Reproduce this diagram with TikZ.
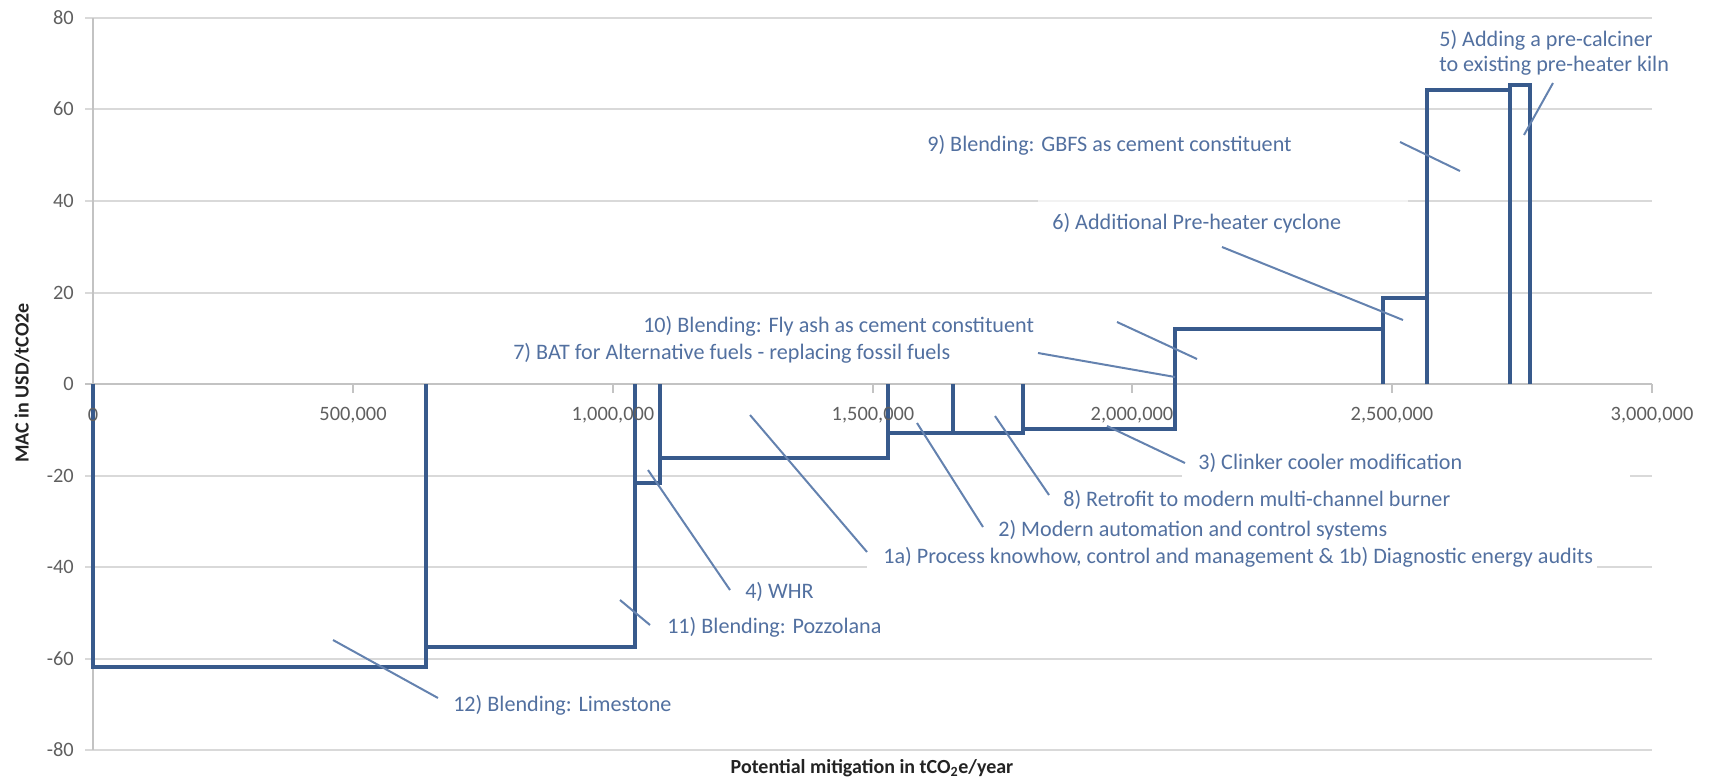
\documentclass[tikz,border=0pt]{standalone}
\usepackage{fontspec}
\setmainfont{Carlito}
\definecolor{curveblue}{RGB}{56,90,140}
\definecolor{lblblue}{RGB}{82,112,160}
\definecolor{leadblue}{RGB}{100,130,175}
\definecolor{gridgray}{RGB}{217,217,217}
\definecolor{axisgray}{RGB}{195,195,195}
\definecolor{ticktext}{RGB}{95,95,95}
\definecolor{titletext}{RGB}{35,35,35}
\begin{document}
\begin{tikzpicture}[x=0.75pt,y=-0.75pt,
  gridline/.style={draw=gridgray,line width=2.2pt},
  faintgrid/.style={draw=gridgray!35,line width=2.2pt},
  axisline/.style={draw=axisgray,line width=2.2pt},
  curve/.style={draw=curveblue,line width=3pt,line join=miter},
  leader/.style={draw=leadblue,line width=1.5pt},
  lbl/.style={anchor=west,inner sep=0pt,text=lblblue,align=left,
    font=\fontsize{16.6}{18.75}\selectfont},
  xtick/.style={anchor=center,inner sep=0pt,text=ticktext,
    font=\fontsize{15.3}{18}\selectfont},
  ytick/.style={anchor=east,inner sep=0pt,text=ticktext,
    font=\fontsize{15.3}{18}\selectfont},
  axtitle/.style={inner sep=0pt,text=titletext,
    font=\fontsize{15}{18}\selectfont\bfseries}]
\useasboundingbox (0,0) rectangle (1709,778);

% gridlines
\foreach \yy in {18,109,293,659,750} {
  \draw[gridline] (85,\yy) -- (1652,\yy);
}
\draw[gridline] (85,201) -- (1038,201);
\draw[faintgrid] (1038,201) -- (1408,201);
\draw[gridline] (1408,201) -- (1652,201);
\draw[gridline] (85,476) -- (1182,476);
\draw[gridline] (1630,476) -- (1652,476);
\draw[gridline] (85,567) -- (867,567);
\draw[gridline] (1597,567) -- (1652,567);
% axes
\draw[axisline] (93,18) -- (93,750);
\draw[axisline] (85,384) -- (1652,384);
\foreach \xx in {353,613,873,1132,1392,1652} {
  \draw[axisline,line width=1.2pt] (\xx,384) -- (\xx,393);
}

% MAC curve bars
\draw[curve] (93,384) -- (93,667) -- (426,667) -- (426,384);
\draw[curve] (426,384) -- (426,647) -- (635,647) -- (635,384);
\draw[curve] (635,384) -- (635,483) -- (660,483) -- (660,384);
\draw[curve] (660,384) -- (660,458) -- (888,458) -- (888,384);
\draw[curve] (888,384) -- (888,433) -- (953,433) -- (953,384);
\draw[curve] (953,384) -- (953,433) -- (1023,433) -- (1023,384);
\draw[curve] (1023,384) -- (1023,429) -- (1175,429) -- (1175,384);
\draw[curve] (1175,384) -- (1175,329) -- (1383,329) -- (1383,384);
\draw[curve] (1383,384) -- (1383,298) -- (1427,298) -- (1427,384);
\draw[curve] (1427,384) -- (1427,90) -- (1510,90) -- (1510,384);
\draw[curve] (1510,384) -- (1510,85) -- (1530,85) -- (1530,384);

% tick labels
\node[xtick] (x0) at (93,415) {0};
\node[xtick] (x1) at (353,415) {500,000};
\node[xtick] (x2) at (613,415) {1,000,000};
\node[xtick] (x3) at (873,415) {1,500,000};
\node[xtick] (x4) at (1132,415) {2,000,000};
\node[xtick] (x5) at (1392,415) {2,500,000};
\node[xtick] (x6) at (1652,415) {3,000,000};
\node[ytick] (y80) at (74,18) {80};
\node[ytick] (y60) at (74,109) {60};
\node[ytick] (y40) at (74,201) {40};
\node[ytick] (y20) at (74,293) {20};
\node[ytick] (y0) at (74,384) {0};
\node[ytick] (ym20) at (74,476) {-20};
\node[ytick] (ym40) at (74,567) {-40};
\node[ytick] (ym60) at (74,659) {-60};
\node[ytick] (ym80) at (74,750) {-80};

% axis titles
\node[axtitle,rotate=90] (ytitle) at (22,383) {MAC in USD/tCO2e};
\node[axtitle] (xtitle) at (872,768) {Potential mitigation in tCO\textsubscript{2}e/year};

% labels
\node[lbl] (l12) at (453,705) {12) Blending: Limestone};
\node[lbl] (l11) at (667,627) {11) Blending: Pozzolana};
\node[lbl] (l4) at (745,592) {4) WHR};
\node[lbl] (l1a) at (883,557) {1a) Process knowhow, control and management \& 1b) Diagnostic energy audits};
\node[lbl] (l2) at (998,530) {2) Modern automation and control systems};
\node[lbl] (l8) at (1063,500) {8) Retrofit to modern multi-channel burner};
\node[lbl] (l3) at (1198,463) {3) Clinker cooler modification};
\node[lbl] (l10) at (643,326) {10) Blending: Fly ash as cement constituent};
\node[lbl] (l7) at (513,353) {7) BAT for Alternative fuels - replacing fossil fuels};
\node[lbl] (l6) at (1052,223) {6) Additional Pre-heater cyclone};
\node[lbl] (l9) at (927,145) {9) Blending: GBFS as cement constituent};
\node[lbl] (l5) at (1439,52.5) {5) Adding a pre-calciner\\to existing pre-heater kiln};

% leader lines
\coordinate (a12) at (333,640); \coordinate (b12) at (438,698);
\coordinate (a11) at (620,600); \coordinate (b11) at (650,625);
\coordinate (a4) at (648,470); \coordinate (b4) at (730,590);
\coordinate (a1a) at (750,415); \coordinate (b1a) at (867,552);
\coordinate (a2) at (917,423); \coordinate (b2) at (983,527);
\coordinate (a8) at (995,416); \coordinate (b8) at (1049,495);
\coordinate (a3) at (1107,426); \coordinate (b3) at (1185,463);
\coordinate (a10) at (1117,322); \coordinate (b10) at (1197,359);
\coordinate (a7) at (1038,353); \coordinate (b7) at (1175,377);
\coordinate (a6) at (1222,247); \coordinate (b6) at (1403,320);
\coordinate (a9) at (1400,142); \coordinate (b9) at (1460,171);
\coordinate (a5) at (1553,83); \coordinate (b5) at (1524,135);
\foreach \k in {12,11,4,1a,2,8,3,10,7,6,9,5} {
  \draw[leader] (a\k) -- (b\k);
}
\end{tikzpicture}
\end{document}
